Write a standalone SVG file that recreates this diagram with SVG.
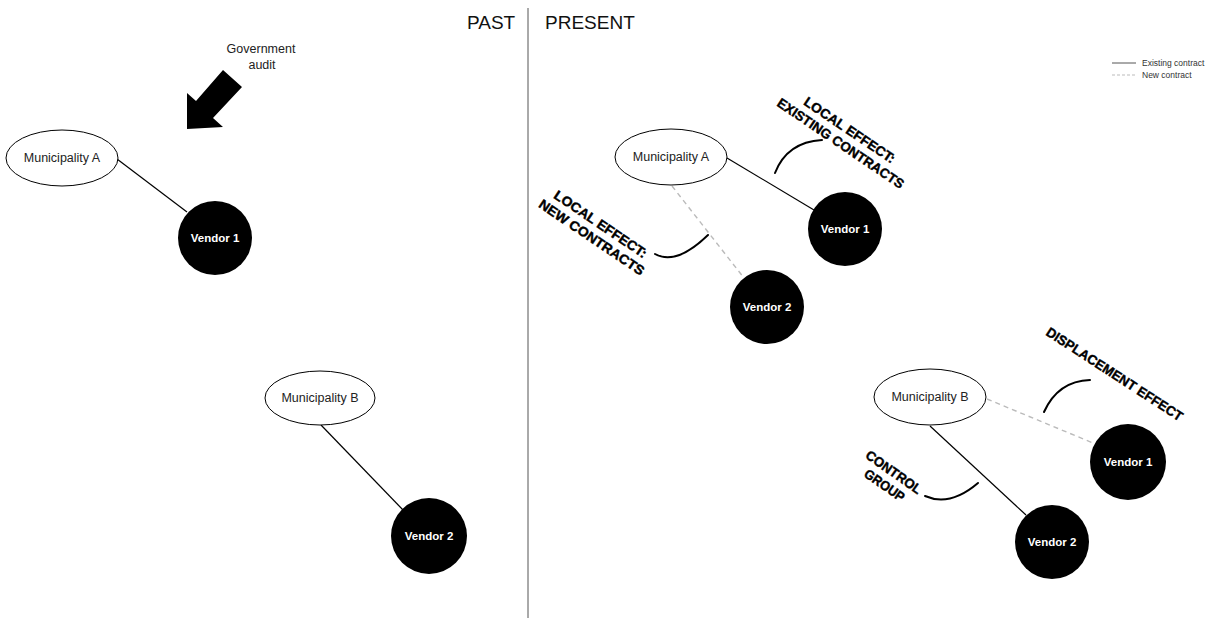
<svg xmlns="http://www.w3.org/2000/svg" width="1225" height="618" viewBox="0 0 1225 618">
<style>
.muni{fill:#fff;stroke:#000;stroke-width:1}
.vendor{fill:#000}
.mt{font-family:"Liberation Sans",Arial,sans-serif;font-size:12.5px;fill:#222;text-anchor:middle}
.vt{font-family:"Liberation Sans",Arial,sans-serif;font-size:11.5px;font-weight:bold;fill:#fff;text-anchor:middle}
.solid{stroke:#000;stroke-width:1.2;fill:none}
.dash{stroke:#bbb;stroke-width:1.4;stroke-dasharray:5 4;fill:none}
.brace{stroke:#000;stroke-width:2;fill:none;stroke-linecap:round}
.lab{font-family:"Liberation Sans",Arial,sans-serif;font-size:13.5px;font-weight:bold;fill:#000;text-anchor:middle;stroke:#000;stroke-width:0.4}
.head{font-family:"Liberation Sans",Arial,sans-serif;font-size:19px;fill:#111}
.leg{font-family:"Liberation Sans",Arial,sans-serif;font-size:8.5px;fill:#333}
</style>
<rect width="1225" height="618" fill="#fff"/>
<g id="divider">
<line x1="528" y1="8" x2="528" y2="618" stroke="#555" stroke-width="1"/>
<text class="head" x="467" y="29">PAST</text>
<text class="head" x="545" y="29">PRESENT</text>
</g>
<g id="legend">
<line x1="1112" y1="63" x2="1136" y2="63" stroke="#555" stroke-width="1"/>
<text class="leg" x="1142" y="66">Existing contract</text>
<line x1="1112" y1="75" x2="1136" y2="75" stroke="#bbb" stroke-width="1" stroke-dasharray="3 2"/>
<text class="leg" x="1142" y="78">New contract</text>
</g>
<g id="connectors">
<line class="solid" x1="117" y1="159" x2="187" y2="212"/>
<line class="solid" x1="321" y1="425" x2="403" y2="510"/>
<line class="solid" x1="727" y1="158" x2="814" y2="210"/>
<line class="dash" x1="672" y1="186" x2="744" y2="278"/>
<line class="dash" x1="987" y1="399" x2="1093" y2="443"/>
<line class="solid" x1="930" y1="426" x2="1026" y2="515"/>
</g>
<g id="audit-arrow">
<polygon points="223,70 242,87 213,118 223,127 187,129 187,93 196,101" fill="#000"/>
<text class="mt" x="261" y="53">Government</text>
<text class="mt" x="262" y="69">audit</text>
</g>
<g id="past-muni-a"><ellipse class="muni" cx="62" cy="158" rx="56" ry="28"/><text class="mt" x="62" y="162">Municipality A</text></g>
<g id="past-vendor-1"><circle class="vendor" cx="215" cy="238" r="37"/><text class="vt" x="215" y="242">Vendor 1</text></g>
<g id="past-muni-b"><ellipse class="muni" cx="320" cy="398" rx="55" ry="27"/><text class="mt" x="320" y="402">Municipality B</text></g>
<g id="past-vendor-2"><circle class="vendor" cx="429" cy="536" r="38"/><text class="vt" x="429" y="540">Vendor 2</text></g>
<g id="present-muni-a"><ellipse class="muni" cx="671" cy="157" rx="56" ry="28"/><text class="mt" x="671" y="161">Municipality A</text></g>
<g id="present-vendor-1a"><circle class="vendor" cx="845" cy="229" r="37"/><text class="vt" x="845" y="233">Vendor 1</text></g>
<g id="present-vendor-2a"><circle class="vendor" cx="767" cy="307" r="37"/><text class="vt" x="767" y="311">Vendor 2</text></g>
<g id="present-muni-b"><ellipse class="muni" cx="930" cy="397" rx="56" ry="28"/><text class="mt" x="930" y="401">Municipality B</text></g>
<g id="present-vendor-1b"><circle class="vendor" cx="1128" cy="462" r="38"/><text class="vt" x="1128" y="466">Vendor 1</text></g>
<g id="present-vendor-2b"><circle class="vendor" cx="1052" cy="542" r="37"/><text class="vt" x="1052" y="546">Vendor 2</text></g>
<g id="label-existing">
<path class="brace" d="M775,173 Q787,142 822,140"/>
<g transform="translate(847,134) rotate(34)">
<text class="lab" x="0" y="0" textLength="107" lengthAdjust="spacingAndGlyphs">LOCAL EFFECT:</text>
<text class="lab" x="0" y="16" textLength="150" lengthAdjust="spacingAndGlyphs">EXISTING CONTRACTS</text>
</g>
</g>
<g id="label-new">
<path class="brace" d="M655,254 Q676,266 708,235"/>
<g transform="translate(598,228) rotate(34)">
<text class="lab" x="0" y="0" textLength="109" lengthAdjust="spacingAndGlyphs">LOCAL EFFECT:</text>
<text class="lab" x="0" y="16" textLength="124" lengthAdjust="spacingAndGlyphs">NEW CONTRACTS</text>
</g>
</g>
<g id="label-displacement">
<path class="brace" d="M1044,412 Q1058,381 1090,380"/>
<g transform="translate(1112,378) rotate(33)">
<text class="lab" x="0" y="0" textLength="160" lengthAdjust="spacingAndGlyphs">DISPLACEMENT EFFECT</text>
</g>
</g>
<g id="label-control">
<path class="brace" d="M925,496 Q950,507 978,483"/>
<g transform="translate(891,476) rotate(35)">
<text class="lab" x="0" y="0" textLength="65" lengthAdjust="spacingAndGlyphs">CONTROL</text>
<text class="lab" x="0" y="16" textLength="46" lengthAdjust="spacingAndGlyphs">GROUP</text>
</g>
</g>
</svg>
